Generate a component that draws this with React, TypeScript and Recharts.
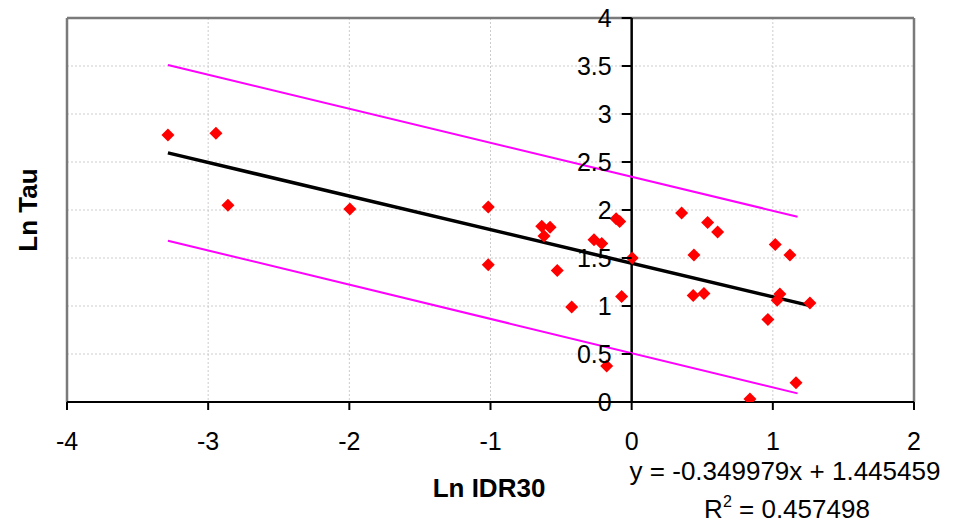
import React from 'react';
import {
  ScatterChart,
  Scatter,
  XAxis,
  YAxis,
  CartesianGrid,
  ReferenceLine,
} from 'recharts';

// ---- data ----
const lnIDR30 = [
  -3.285, -2.945, -2.86, -1.996, -1.016, -1.016, -0.637, -0.578, -0.621, -0.527,
  -0.425, -0.267, -0.212, -0.177, -0.11, -0.085, -0.071, 0.004, 0.354, 0.538,
  0.609, 0.441, 0.436, 0.512, 0.838, 0.965, 1.017, 1.031, 1.05, 1.121, 1.164, 1.263,
];
const lnTau = [
  2.78, 2.8, 2.05, 2.01, 2.03, 1.43, 1.83, 1.82, 1.73, 1.37,
  0.99, 1.69, 1.65, 0.375, 1.91, 1.88, 1.1, 1.5, 1.97, 1.87,
  1.77, 1.53, 1.11, 1.13, 0.03, 0.86, 1.64, 1.06, 1.125, 1.53, 0.2, 1.03,
];
const xTicks = [-4, -3, -2, -1, 0, 1, 2];
const yTicks = [0, 0.5, 1, 1.5, 2, 2.5, 3, 3.5, 4];
const fitSlope = -0.349979;
const fitIntercept = 1.445459;
const rSquared = '0.457498';
const bandX = [-3.285, 1.175];
const upperBandY = [3.51, 1.93];
const lowerBandY = [1.68, 0.09];

// ---- derived series ----
const points = lnIDR30.map((x, i) => ({ x, y: lnTau[i] }));
const xMinData = Math.min(...lnIDR30);
const xMaxData = Math.max(...lnIDR30);
const fitLine = [xMinData, xMaxData].map((x) => ({ x, y: fitSlope * x + fitIntercept }));
const upperBand = bandX.map((x, i) => ({ x, y: upperBandY[i] }));
const lowerBand = bandX.map((x, i) => ({ x, y: lowerBandY[i] }));

// ---- layout / style ----
const W = 955;
const H = 523;
const M = { top: 18, right: 41, bottom: 0, left: 66 };
const Y_AXIS_W = 1;
const X_AXIS_H = 121;
const X_MIN = -4;
const X_MAX = 2;
const Y_MIN = 0;
const Y_MAX = 4;
const plotLeft = M.left + Y_AXIS_W;
const plotW = W - plotLeft - M.right;
const zeroX = plotLeft + (plotW * (0 - X_MIN)) / (X_MAX - X_MIN);
const FONT = '"Liberation Sans", Arial, sans-serif';
const FRAME = '#7a7a7a';

const YTick = (props: any) => {
  const { y, payload } = props;
  return (
    <g>
      <line x1={zeroX - 10} x2={zeroX} y1={y} y2={y} stroke="#000" strokeWidth={2} />
      <text
        x={zeroX - 20}
        y={y}
        dy={9}
        textAnchor="end"
        fontSize={25}
        fontFamily={FONT}
        fill="#000"
      >
        {payload.value}
      </text>
    </g>
  );
};

const Diamond = (props: any) => {
  const { cx, cy } = props;
  const r = 6.5;
  return (
    <polygon
      points={`${cx},${cy - r} ${cx + r},${cy} ${cx},${cy + r} ${cx - r},${cy}`}
      fill="#ff0000"
    />
  );
};

const NoShape = () => <g />;

export default function App() {
  return (
    <div style={{ position: 'absolute', left: 0, top: 0, width: W, height: H, background: '#fff' }}>
      <ScatterChart width={W} height={H} margin={M}>
        <CartesianGrid stroke="#cccccc" strokeDasharray="2 2" />
        <XAxis
          type="number"
          dataKey="x"
          domain={[X_MIN, X_MAX]}
          ticks={xTicks}
          height={X_AXIS_H}
          axisLine={{ stroke: '#000', strokeWidth: 2 }}
          tickLine={{ stroke: '#000', strokeWidth: 2 }}
          tickSize={8}
          tickMargin={22}
          tick={{ fontSize: 25, fill: '#000', fontFamily: FONT }}
          allowDataOverflow
        />
        <YAxis
          type="number"
          dataKey="y"
          domain={[Y_MIN, Y_MAX]}
          ticks={yTicks}
          width={Y_AXIS_W}
          axisLine={false}
          tickLine={false}
          tick={YTick}
          interval={0}
          allowDataOverflow
        />
        <ReferenceLine x={X_MIN} stroke={FRAME} strokeWidth={2.5} ifOverflow="visible" />
        <ReferenceLine x={X_MAX} stroke={FRAME} strokeWidth={2.5} ifOverflow="visible" />
        <ReferenceLine y={Y_MAX} stroke={FRAME} strokeWidth={2.5} ifOverflow="visible" />
        <ReferenceLine x={0} stroke="#000" strokeWidth={2.5} />
        <Scatter
          data={upperBand}
          line={{ stroke: '#ff00ff', strokeWidth: 2 }}
          shape={NoShape}
          isAnimationActive={false}
          legendType="none"
        />
        <Scatter
          data={lowerBand}
          line={{ stroke: '#ff00ff', strokeWidth: 2 }}
          shape={NoShape}
          isAnimationActive={false}
          legendType="none"
        />
        <Scatter
          data={fitLine}
          line={{ stroke: '#000', strokeWidth: 3.5 }}
          shape={NoShape}
          isAnimationActive={false}
          legendType="none"
        />
        <Scatter data={points} fill="#ff0000" shape={Diamond} isAnimationActive={false} />
        <text
          transform="translate(37,210) rotate(-90)"
          textAnchor="middle"
          fontSize={26}
          fontWeight="bold"
          fontFamily={FONT}
          fill="#000"
        >
          Ln Tau
        </text>
        <text x={489} y={497} textAnchor="middle" fontSize={26} fontWeight="bold" fontFamily={FONT} fill="#000">
          Ln IDR30
        </text>
        <text x={785} y={480} textAnchor="middle" fontSize={26} fontFamily={FONT} fill="#000">
          {`y = ${fitSlope}x + ${fitIntercept}`}
        </text>
        <text x={787} y={518} textAnchor="middle" fontSize={26} fontFamily={FONT} fill="#000">
          R<tspan fontSize={16} dy={-11}>2</tspan>
          <tspan dy={11}>{` = ${rSquared}`}</tspan>
        </text>
      </ScatterChart>
    </div>
  );
}
